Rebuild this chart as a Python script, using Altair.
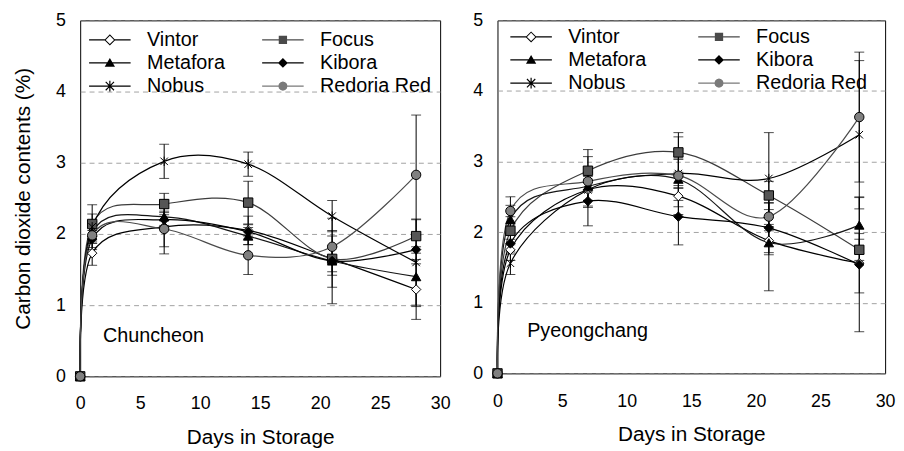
import altair as alt
import pandas as pd

# ---------------- data ----------------
days = [0, 1, 7, 14, 21, 28]
varieties = ["Vintor", "Focus", "Metafora", "Kibora", "Nobus", "Redoria Red"]
site_names = ["Chuncheon", "Pyeongchang"]

# Chuncheon means (%)
chun_vintor = [0, 1.73, 2.10, 2.05, 1.65, 1.22]
chun_focus = [0, 2.14, 2.42, 2.44, 1.65, 1.97]
chun_metafora = [0, 2.02, 2.24, 1.97, 1.62, 1.40]
chun_kibora = [0, 1.93, 2.20, 2.03, 1.62, 1.78]
chun_nobus = [0, 2.10, 3.02, 2.98, 2.25, 1.60]
chun_redoria = [0, 1.98, 2.07, 1.70, 1.82, 2.83]

# Chuncheon error (+/-)
chun_vintor_err = [0, 0.17, 0.38, 0.20, 0.40, 0.42]
chun_focus_err = [0, 0.27, 0.15, 0.30, 0.18, 0.24]
chun_metafora_err = [0, 0.15, 0.12, 0.12, 0.60, 0.42]
chun_kibora_err = [0, 0.12, 0.10, 0.10, 0.20, 0.20]
chun_nobus_err = [0, 0.18, 0.24, 0.17, 0.22, 0.60]
chun_redoria_err = [0, 0.20, 0.25, 0.27, 0.15, 0.84]

# Pyeongchang means (%)
pyeong_vintor = [0, 1.75, 2.60, 2.51, 1.88, 1.56]
pyeong_focus = [0, 2.02, 2.87, 3.13, 2.52, 1.75]
pyeong_metafora = [0, 2.18, 2.65, 2.75, 1.85, 2.10]
pyeong_kibora = [0, 1.84, 2.44, 2.22, 2.06, 1.54]
pyeong_nobus = [0, 1.56, 2.60, 2.83, 2.76, 3.38]
pyeong_redoria = [0, 2.30, 2.72, 2.80, 2.22, 3.63]

# Pyeongchang error (+/-)
pyeong_vintor_err = [0, 0.15, 0.15, 0.15, 0.20, 0.42]
pyeong_focus_err = [0, 0.20, 0.30, 0.28, 0.20, 0.15]
pyeong_metafora_err = [0, 0.20, 0.20, 0.30, 0.68, 0.40]
pyeong_kibora_err = [0, 0.15, 0.35, 0.40, 0.35, 0.95]
pyeong_nobus_err = [0, 0.16, 0.25, 0.20, 0.65, 1.05]
pyeong_redoria_err = [0, 0.20, 0.35, 0.55, 0.20, 0.92]

x_ticks = [0, 5, 10, 15, 20, 25, 30]
y_ticks = [0, 1, 2, 3, 4, 5]

# ---------------- style ----------------
FONT = "Liberation Sans"
ASTERISK = "M-0.8,-0.8L0.8,0.8M-0.8,0.8L0.8,-0.8M0,-1L0,1"
line_colors = ["#000000", "#3c3c3c", "#151515", "#000000", "#000000", "#4a4a4a"]
marker_shapes = ["diamond", "square", "triangle-up", "diamond", ASTERISK, "circle"]
marker_fills = ["#ffffff", "#555555", "#000000", "#000000", "transparent", "#808080"]

# legend keys drawn as filled outlines: a thin bar for the series line plus the marker
BAR = "M-2.1,-0.06L2.1,-0.06L2.1,0.06L-2.1,0.06Z"
BAR_SPLIT = ("M-2.1,-0.06L-0.5,-0.06L-0.5,0.06L-2.1,0.06Z"
             "M0.5,-0.06L2.1,-0.06L2.1,0.06L0.5,0.06Z")
legend_paths = [
    BAR_SPLIT + "M0,-0.56L0.56,0L0,0.56L-0.56,0ZM0,-0.42L-0.42,0L0,0.42L0.42,0Z",
    BAR + "M-0.42,-0.42L0.42,-0.42L0.42,0.42L-0.42,0.42Z",
    BAR + "M0,-0.5L0.52,0.4L-0.52,0.4Z",
    BAR + "M0,-0.5L0.5,0L0,0.5L-0.5,0Z",
    BAR + "M-0.06,-0.55L0.06,-0.55L0.06,0.55L-0.06,0.55Z"
    "M-0.38,-0.46L0.46,0.38L0.38,0.46L-0.46,-0.38Z"
    "M-0.46,0.38L0.38,-0.46L0.46,-0.38L-0.38,0.46Z",
    BAR + "M0.46,0L0.4,0.23L0.23,0.4L0,0.46L-0.23,0.4L-0.4,0.23"
    "L-0.46,0L-0.4,-0.23L-0.23,-0.4L0,-0.46L0.23,-0.4L0.4,-0.23Z",
]
legend_fills = ["#000000", "#4a4a4a", "#000000", "#000000", "#000000", "#7a7a7a"]
# legend entries fill column by column: (Vintor, Metafora, Nobus | Focus, Kibora, Redoria Red)
legend_order = [0, 2, 4, 1, 3, 5]


def build_frame(means, errs):
    rows = []
    for v, m, e in zip(varieties, means, errs):
        for d, mv, ev in zip(days, m, e):
            rows.append({"variety": v, "day": d, "co2": mv, "err": ev,
                         "lo": mv - ev, "hi": mv + ev})
    return pd.DataFrame(rows)


chun_df = build_frame(
    [chun_vintor, chun_focus, chun_metafora, chun_kibora, chun_nobus, chun_redoria],
    [chun_vintor_err, chun_focus_err, chun_metafora_err, chun_kibora_err,
     chun_nobus_err, chun_redoria_err])
pyeong_df = build_frame(
    [pyeong_vintor, pyeong_focus, pyeong_metafora, pyeong_kibora, pyeong_nobus, pyeong_redoria],
    [pyeong_vintor_err, pyeong_focus_err, pyeong_metafora_err, pyeong_kibora_err,
     pyeong_nobus_err, pyeong_redoria_err])


def panel(df, site, width, height, show_ytitle, legend_x, legend_y, col_pad, label_x, label_y):
    x_axis = alt.Axis(values=x_ticks, title="Days in Storage", grid=False, ticks=False,
                      domain=False, labelFlush=False, labelPadding=19, titlePadding=14,
                      labelFontSize=18, titleFontSize=21)
    y_kwargs = dict(values=y_ticks, grid=True, ticks=False, domain=False, labelFlush=False,
                    labelPadding=15, labelFontSize=18, titleFontSize=21, titlePadding=22,
                    gridColor="#8a8a8a", gridDash=[5, 4], gridWidth=0.8)
    y_axis = alt.Axis(title="Carbon dioxide contents (%)" if show_ytitle else None, **y_kwargs)
    xs = alt.Scale(domain=[0, 30], nice=False, zero=False)
    ys = alt.Scale(domain=[0, 5], nice=False)
    X = alt.X("day:Q", scale=xs, axis=x_axis)
    Y = alt.Y("co2:Q", scale=ys, axis=y_axis)
    base = alt.Chart(df)

    lines = base.mark_line(interpolate="cardinal", strokeWidth=1.2).encode(
        x=X, y=Y, detail="variety:N",
        stroke=alt.Stroke("variety:N", scale=alt.Scale(domain=varieties, range=line_colors), legend=None),
    )
    err = base.transform_filter("datum.err > 0")
    rules = err.mark_rule(color="black", strokeWidth=1).encode(
        x=X, y=alt.Y("lo:Q", scale=ys, axis=y_axis), y2="hi:Q")
    caps_lo = err.mark_tick(orient="horizontal", size=10, thickness=1, color="black").encode(
        x=X, y=alt.Y("lo:Q", scale=ys, axis=y_axis))
    caps_hi = err.mark_tick(orient="horizontal", size=10, thickness=1, color="black").encode(
        x=X, y=alt.Y("hi:Q", scale=ys, axis=y_axis))

    # one marker layer per variety (constant shape and fill)
    point_layers = []
    for v, shp, fil in zip(varieties, marker_shapes, marker_fills):
        point_layers.append(
            base.transform_filter(alt.datum.variety == v).mark_point(
                shape=shp, fill=fil, stroke="black", strokeWidth=1, size=90, opacity=1
            ).encode(x=X, y=Y)
        )

    leg_domain = [varieties[i] for i in legend_order]
    leg_paths = [legend_paths[i] for i in legend_order]
    leg_fills = [legend_fills[i] for i in legend_order]
    legend = alt.Legend(
        title=None, orient="none", legendX=legend_x, legendY=legend_y, columns=2,
        columnPadding=col_pad, rowPadding=2.5, symbolSize=400, symbolOffset=10.5,
        labelOffset=27, labelFontSize=20, labelFont=FONT, labelColor="black", labelLimit=0,
        symbolStrokeColor="black", symbolStrokeWidth=1, symbolOpacity=1,
    )
    # legend-only layer: no rows survive the filter, the keyed legend comes from the scales
    legend_layer = base.transform_filter("false").mark_point(size=400, strokeWidth=1, opacity=1).encode(
        x=X, y=Y,
        shape=alt.Shape("variety:N", scale=alt.Scale(domain=leg_domain, range=leg_paths), legend=legend),
        fill=alt.Fill("variety:N", scale=alt.Scale(domain=leg_domain, range=leg_fills), legend=legend),
    )
    label = alt.Chart(pd.DataFrame({"site": [site]})).mark_text(
        align="left", baseline="alphabetic", fontSize=20, font=FONT, color="black"
    ).encode(x=alt.value(label_x), y=alt.value(label_y), text="site:N")

    return alt.layer(lines, rules, caps_lo, caps_hi, *point_layers, legend_layer, label).properties(
        width=width, height=height)


left = panel(chun_df, site_names[0], 364, 360, True, 9, 9, 35, 23, 325)
right = panel(pyeong_df, site_names[1], 392, 357, False, 13, 6, 50, 30, 320)

chart = alt.hconcat(left, right, spacing=21).resolve_scale(
    shape="independent", fill="independent", stroke="independent"
).resolve_legend(shape="independent", fill="independent").properties(
    padding={"left": 4, "top": 0, "right": 0, "bottom": 0}
).configure_view(stroke="black", strokeWidth=1).configure_axis(
    labelFont=FONT, titleFont=FONT, labelColor="black", titleColor="black",
    titleFontWeight="normal"
).configure_text(font=FONT)

chart.save("out.html", embed_options={"renderer": "svg", "actions": False})
